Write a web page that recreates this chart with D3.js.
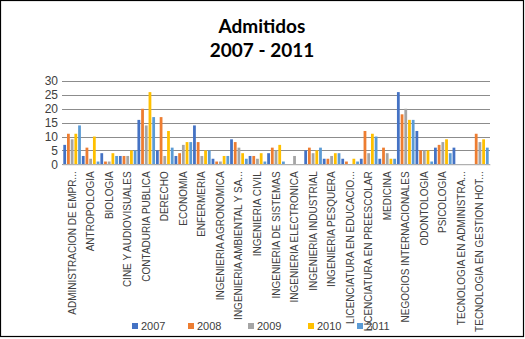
<!DOCTYPE html>
<html>
<head>
<meta charset="utf-8">
<script src="https://cdn.jsdelivr.net/npm/d3@7"></script>
<style>
  html, body { margin: 0; padding: 0; background: #fff; }
  svg { display: block; }
</style>
</head>
<body>
<svg id="chart" width="525" height="339"></svg>
<script>
// Programas académicos (etiquetas tal como aparecen en el eje)
const categories = [
  "ADMINISTRACION DE EMPR...", "ANTROPOLOGIA", "BIOLOGIA", "CINE Y AUDIOVISUALES",
  "CONTADURIA PUBLICA", "DERECHO", "ECONOMIA", "ENFERMERIA",
  "INGENIERIA AGRONOMICA", "INGENIERIA AMBIENTAL Y SA...", "INGENIERIA CIVIL",
  "INGENIERIA DE SISTEMAS", "INGENIERIA ELECTRONICA", "INGENIERIA INDUSTRIAL",
  "INGENIERIA PESQUERA", "LICENCIATURA EN EDUCACIO...", "LICENCIATURA EN PREESCOLAR",
  "MEDICINA", "NEGOCIOS INTERNACIONALES", "ODONTOLOGIA", "PSICOLOGIA",
  "TECNOLOGIA EN ADMINISTRA...", "TECNOLOGIA EN GESTION HOT..."
];

const years = ["2007", "2008", "2009", "2010", "2011"];

// Admitidos por año, en el orden de categories
const admitidos2007 = [7, 3, 4, 3, 16, 5, 3, 14, 2, 9, 3, 4, 0, 5, 2, 2, 2, 2, 26, 12, 6, 6, 0];
const admitidos2008 = [11, 6, 1, 3, 20, 17, 4, 8, 1, 8, 3, 6, 0, 6, 2, 1, 12, 6, 18, 5, 7, 0, 11];
const admitidos2009 = [9, 2, 1, 3, 14, 3, 7, 3, 1, 6, 2, 5, 3, 4, 3, 0, 4, 4, 20, 5, 8, 0, 8];
const admitidos2010 = [11, 10, 4, 5, 26, 12, 8, 5, 3, 4, 4, 7, 0, 5, 4, 2, 11, 2, 16, 5, 9, 0, 9];
const admitidos2011 = [14, 1, 3, 5, 17, 6, 8, 5, 3, 2, 1, 1, 0, 6, 4, 1, 10, 2, 16, 1, 4, 0, 6];

const yTicks = [0, 5, 10, 15, 20, 25, 30];

const seriesValues = [admitidos2007, admitidos2008, admitidos2009, admitidos2010, admitidos2011];
const colors = ["#4472C4", "#ED7D31", "#A5A5A5", "#FFC000", "#5B9BD5"];

const svg = d3.select("#chart");
const W = 525, H = 339;

// Marco exterior del gráfico
svg.append("rect")
  .attr("x", 0.5).attr("y", 0.5)
  .attr("width", W - 2).attr("height", H - 3)
  .attr("fill", "#fff").attr("stroke", "#000").attr("stroke-width", 1.2);

// Título
const title = svg.append("text")
  .attr("text-anchor", "middle")
  .attr("font-family", "Lato, 'Open Sans', sans-serif")
  .attr("font-weight", "bold")
  .attr("font-size", 19)
  .attr("fill", "#000");
title.append("tspan").attr("x", 262).attr("y", 33).text("Admitidos");
title.append("tspan").attr("x", 262).attr("y", 57).text("2007 - 2011");

// Escalas
const x0 = d3.scaleBand().domain(categories).range([62, 490]).paddingInner(0.03).paddingOuter(0.06);
const x1 = d3.scaleBand().domain(years).range([0, x0.bandwidth()]).paddingInner(0.25).paddingOuter(0.05);
const y = d3.scaleLinear().domain([0, 30]).range([164.3, 81]);

// Líneas de cuadrícula horizontales
svg.append("g")
  .selectAll("line")
  .data(yTicks)
  .join("line")
  .attr("x1", 62).attr("x2", 490)
  .attr("y1", d => Math.round(y(d)) + 0.5)
  .attr("y2", d => Math.round(y(d)) + 0.5)
  .attr("stroke", "#8c8c8c")
  .attr("stroke-width", 1);

// Eje Y
const yAxis = svg.append("g")
  .attr("transform", "translate(60,0)")
  .call(d3.axisLeft(y).tickValues(yTicks).tickSize(0).tickPadding(2));
yAxis.select(".domain").remove();
yAxis.selectAll("text")
  .attr("font-family", "'Liberation Sans', Arial, sans-serif")
  .attr("font-size", 12)
  .attr("fill", "#404040");

// Barras agrupadas
const groups = svg.append("g")
  .selectAll("g")
  .data(categories.map((c, i) => ({ cat: c, idx: i })))
  .join("g")
  .attr("transform", d => `translate(${x0(d.cat)},0)`);

groups.selectAll("rect")
  .data(d => years.map((yr, s) => ({ yr, v: seriesValues[s][d.idx], c: colors[s] })))
  .join("rect")
  .attr("x", d => x1(d.yr))
  .attr("width", x1.bandwidth())
  .attr("y", d => y(d.v))
  .attr("height", d => y(0) - y(d.v))
  .attr("fill", d => d.c);

// Eje X con etiquetas verticales
const xAxis = svg.append("g")
  .attr("transform", `translate(0,${y(0)})`)
  .call(d3.axisBottom(x0).tickSize(0).tickPadding(0));
xAxis.select(".domain")
  .attr("stroke", "#bfbfbf");
xAxis.selectAll("text")
  .attr("font-family", "'Liberation Sans', Arial, sans-serif")
  .attr("font-size", 10)
  .attr("fill", "#404040")
  .attr("text-anchor", "end")
  .attr("transform", "translate(0,7) rotate(-90)")
  .attr("x", 0)
  .attr("y", 0)
  .attr("dy", "0.35em");

// Leyenda
const legendX = [132, 188, 248, 308, 357];
const legend = svg.append("g")
  .selectAll("g")
  .data(years)
  .join("g")
  .attr("transform", (d, i) => `translate(${legendX[i]},326)`);
legend.append("rect")
  .attr("x", 0).attr("y", -3)
  .attr("width", 6).attr("height", 6)
  .attr("fill", (d, i) => colors[i]);
legend.append("text")
  .attr("x", 9).attr("y", 0)
  .attr("dy", "0.35em")
  .attr("font-family", "'Liberation Sans', Arial, sans-serif")
  .attr("font-size", 11)
  .attr("fill", "#404040")
  .text(d => d);
</script>
</body>
</html>
